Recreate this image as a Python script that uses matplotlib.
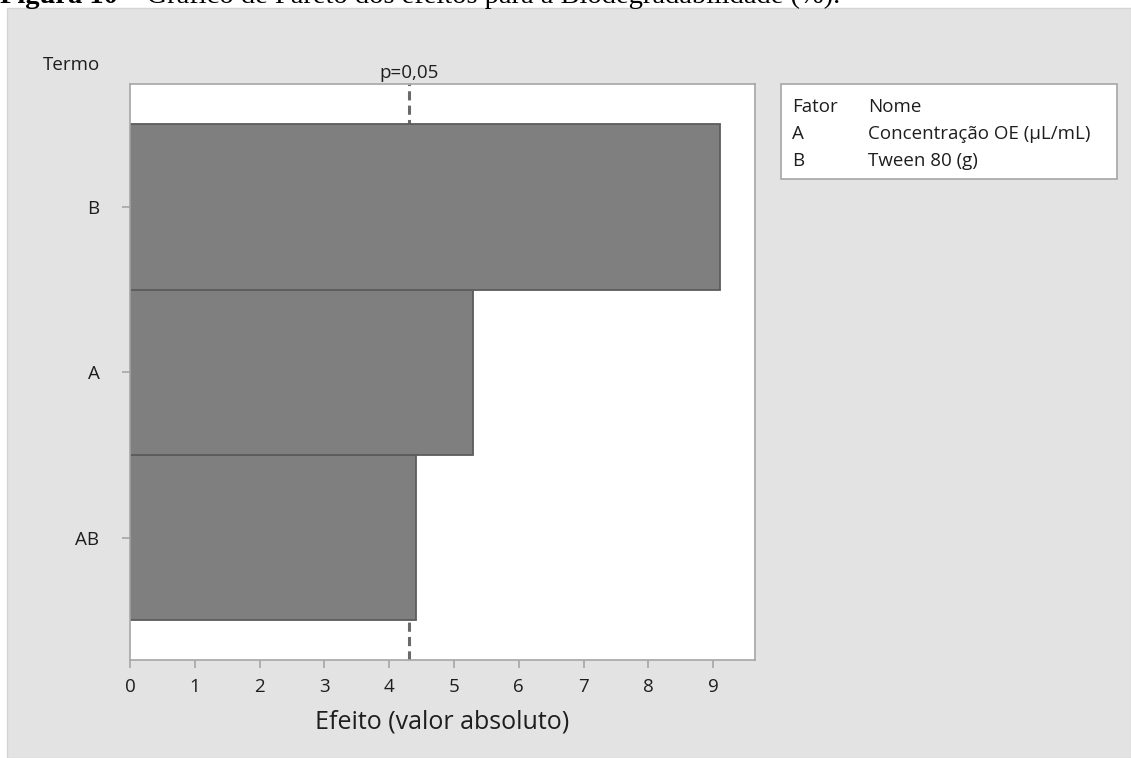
import matplotlib
matplotlib.use('Agg')
import matplotlib.pyplot as plt
from matplotlib.patches import Rectangle
from matplotlib.text import Annotation
import matplotlib.transforms as mtransforms

# ---- data ----
terms = ['AB', 'A', 'B']
effects = [4.42, 5.30, 9.10]
critical = 4.303
critical_label = 'p=0,05'
xticks = list(range(0, 10))
legend_factors = ['A', 'B']
legend_names = ['Concentração OE (µL/mL)', 'Tween 80 (g)']
xlabel = 'Efeito (valor absoluto)'
ylabel = 'Termo'
caption_bold = 'Figura 10'
caption_rest = ' – Gráfico de Pareto dos efeitos para a Biodegradabilidade (%).'

W, H = 1131, 758
plt.rcParams['font.family'] = ['Open Sans', 'DejaVu Sans']
fig = plt.figure(figsize=(W / 100, H / 100), dpi=100)
fig.patch.set_facecolor('white')


def fx(px):
    return px / W


def fy(py):
    return 1 - py / H


GRAY = '#e3e3e3'
SPINE = '#a6a6a6'
TXT = '#1e1e1e'
FS = 13.5

fig.patches.append(Rectangle((fx(7), 0), 1 - fx(7), fy(8), transform=fig.transFigure,
                             facecolor=GRAY, edgecolor='#d4d4d4', lw=1.0, zorder=-5))

# caption (clipped at the top, as in the source)
t1 = fig.text(0.0, fy(3), caption_bold, family='Liberation Serif', fontweight='bold',
              fontsize=20.5, va='baseline', ha='left', color='black', zorder=10)
fig.add_artist(Annotation(caption_rest, xy=(1, 0), xycoords=t1, va='bottom', ha='left',
                          family='Liberation Serif', fontsize=20.5, color='black', zorder=10))

left, right, top, bottom = 130, 755, 84, 660
ax = fig.add_axes([fx(left), fy(bottom), fx(right) - fx(left), fy(top) - fy(bottom)])
ax.set_zorder(5)
ax.set_facecolor('white')
ypos = list(range(len(terms)))
ax.barh(ypos, effects, height=1.0, color='#7f7f7f', edgecolor='#5c5c5c', linewidth=1.3, zorder=2)
ax.axvline(critical, color='#6a6a6a', ls=(0, (3, 1.7)), lw=2.2, zorder=1)
ax.set_xlim(0, 9.645)
ax.set_ylim(-0.74, 2.745)
ax.set_xticks(xticks)
ax.set_xticklabels([str(t) for t in xticks])
ax.set_yticks(ypos)
ax.set_yticklabels(terms)
for s in ax.spines.values():
    s.set_color(SPINE)
    s.set_linewidth(1.2)
ax.tick_params(axis='both', direction='out', length=6, width=1.2, color=SPINE,
               labelcolor=TXT, labelsize=FS)
ax.tick_params(axis='x', pad=7)
ax.tick_params(axis='y', pad=16)

fig.text(fx((left + right) / 2), fy(722), xlabel, ha='center', va='center',
         fontsize=18, color=TXT)

trans = mtransforms.blended_transform_factory(ax.transData, fig.transFigure)
ax.text(critical, fy(73), critical_label, transform=trans, ha='center', va='center',
        fontsize=FS, color=TXT)
fig.text(fx(43), fy(65), ylabel, ha='left', va='center', fontsize=FS, color=TXT)

# legend table box
lx0, lx1, ly0, ly1 = 781, 1117, 84, 179
fig.patches.append(Rectangle((fx(lx0), fy(ly1)), fx(lx1) - fx(lx0), fy(ly0) - fy(ly1),
                             transform=fig.transFigure, facecolor='white',
                             edgecolor=SPINE, lw=1.2, zorder=1))
rows_y = [107, 134, 161]
fig.text(fx(792), fy(rows_y[0]), 'Fator', ha='left', va='center', fontsize=FS, color=TXT)
fig.text(fx(868), fy(rows_y[0]), 'Nome', ha='left', va='center', fontsize=FS, color=TXT)
for i, (f, n) in enumerate(zip(legend_factors, legend_names)):
    fig.text(fx(792), fy(rows_y[i + 1]), f, ha='left', va='center', fontsize=FS, color=TXT)
    fig.text(fx(868), fy(rows_y[i + 1]), n, ha='left', va='center', fontsize=FS, color=TXT)

fig.savefig('out.png', dpi=100, facecolor=fig.get_facecolor())
